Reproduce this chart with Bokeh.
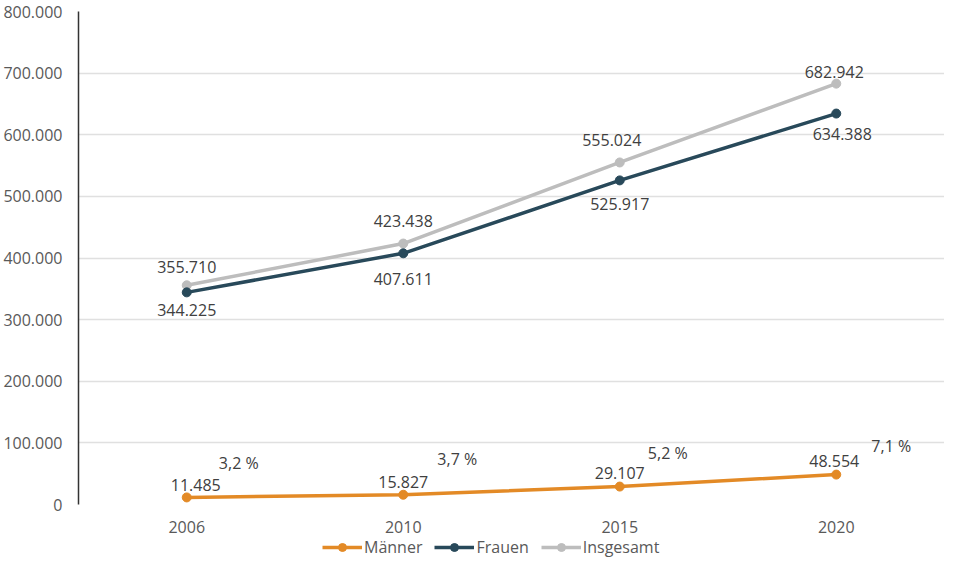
from bokeh.plotting import figure
from bokeh.layouts import column
from bokeh.models import ColumnDataSource, FixedTicker, Legend, LegendItem, Range1d
from bokeh.core.properties import value
from bokeh.embed import file_html
from bokeh.resources import INLINE

# Daten
jahre = ["2006", "2010", "2015", "2020"]
maenner = [11485, 15827, 29107, 48554]
frauen = [344225, 407611, 525917, 634388]
insgesamt = [355710, 423438, 555024, 682942]

y_ticks = [0, 100000, 200000, 300000, 400000, 500000, 600000, 700000, 800000]
y_tick_labels = ["0", "100.000", "200.000", "300.000", "400.000",
                 "500.000", "600.000", "700.000", "800.000"]

c_maenner = "#E38A26"
c_frauen = "#28495A"
c_insgesamt = "#BDBDBD"
FONT = "Open Sans"


def fmt(v):
    return f"{v:,}".replace(",", ".")


anteil = [f"{m / i * 100:.1f} %".replace(".", ",") for m, i in zip(maenner, insgesamt)]

# Label-Versatz in Pixeln (Layout)
off_ins = ([0, 0, -8, -2], [-18, -23, -22, -12])
off_fr = ([0, 0, 0, 6], [18, 26, 24, 20])
off_m = ([9, 0, 0, -2], [-12, -13, -14, -14])
off_pct = ([52, 54, 48, 55], [-34, -36, -34, -29])

p = figure(x_range=jahre, y_range=Range1d(0, 800000),
           frame_width=866, frame_height=493, output_backend="svg",
           toolbar_location=None, min_border_top=11, min_border_left=73,
           min_border_right=0, min_border_bottom=8)
p.outline_line_color = None
p.background_fill_color = "white"

p.yaxis.ticker = FixedTicker(ticks=y_ticks)
p.yaxis.major_label_overrides = dict(zip(y_ticks, y_tick_labels))
p.yaxis.major_tick_line_color = None
p.yaxis.minor_tick_line_color = None
p.yaxis.axis_line_color = "#333333"
p.yaxis.axis_line_width = 1.5
p.xaxis.axis_line_color = None
p.xaxis.major_tick_line_color = None
for ax in (p.xaxis, p.yaxis):
    ax.major_label_text_font = FONT
    ax.major_label_text_font_size = "16px"
    ax.major_label_text_color = "#595959"
p.yaxis.major_label_standoff = 10
p.xaxis.major_label_standoff = 10
p.xgrid.grid_line_color = None
p.ygrid.grid_line_color = "#E0E0E0"
p.ygrid.grid_line_width = 1.5

src = ColumnDataSource(dict(jahre=jahre, maenner=maenner, frauen=frauen,
                            insgesamt=insgesamt))

for col, color in [("maenner", c_maenner), ("insgesamt", c_insgesamt),
                   ("frauen", c_frauen)]:
    p.line("jahre", col, source=src, line_color=color, line_width=3.5)
    p.scatter("jahre", col, source=src, size=9, color=color)


def labels(vals, texts, offs):
    p.text(x=jahre, y=vals, text=texts, x_offset=offs[0], y_offset=offs[1],
           text_align="center", text_baseline="middle",
           text_font=value(FONT), text_font_size="16px", text_color="#404040")


labels(insgesamt, [fmt(v) for v in insgesamt], off_ins)
labels(frauen, [fmt(v) for v in frauen], off_fr)
labels(maenner, [fmt(v) for v in maenner], off_m)
labels(maenner, anteil, off_pct)

# Legende als eigene, schmale Figur unter dem Diagramm
leg = figure(width=944, height=24, x_range=Range1d(0, 1), y_range=Range1d(0, 1),
             output_backend="svg", toolbar_location=None, min_border=0)
leg.axis.visible = False
leg.grid.grid_line_color = None
leg.outline_line_color = None

items = []
for name, color in [("Männer", c_maenner), ("Frauen", c_frauen),
                    ("Insgesamt", c_insgesamt)]:
    # Punkt ausserhalb des Bereichs, nur fuer das Legendensymbol
    l = leg.line(x=[-5, -4], y=[-5, -4], line_color=color, line_width=3.5)
    c = leg.scatter(x=[-5], y=[-5], size=9, color=color)
    items.append(LegendItem(label=name, renderers=[l, c]))

legend = Legend(items=items, orientation="horizontal", location=(244, 1),
                border_line_color=None, background_fill_alpha=0,
                glyph_width=40, label_standoff=2, spacing=12,
                label_text_font=FONT, label_text_font_size="16px",
                label_text_color="#595959", margin=0, padding=0)
leg.add_layout(legend)

open("out.html", "w").write(file_html(column(p, leg, spacing=0), INLINE))
